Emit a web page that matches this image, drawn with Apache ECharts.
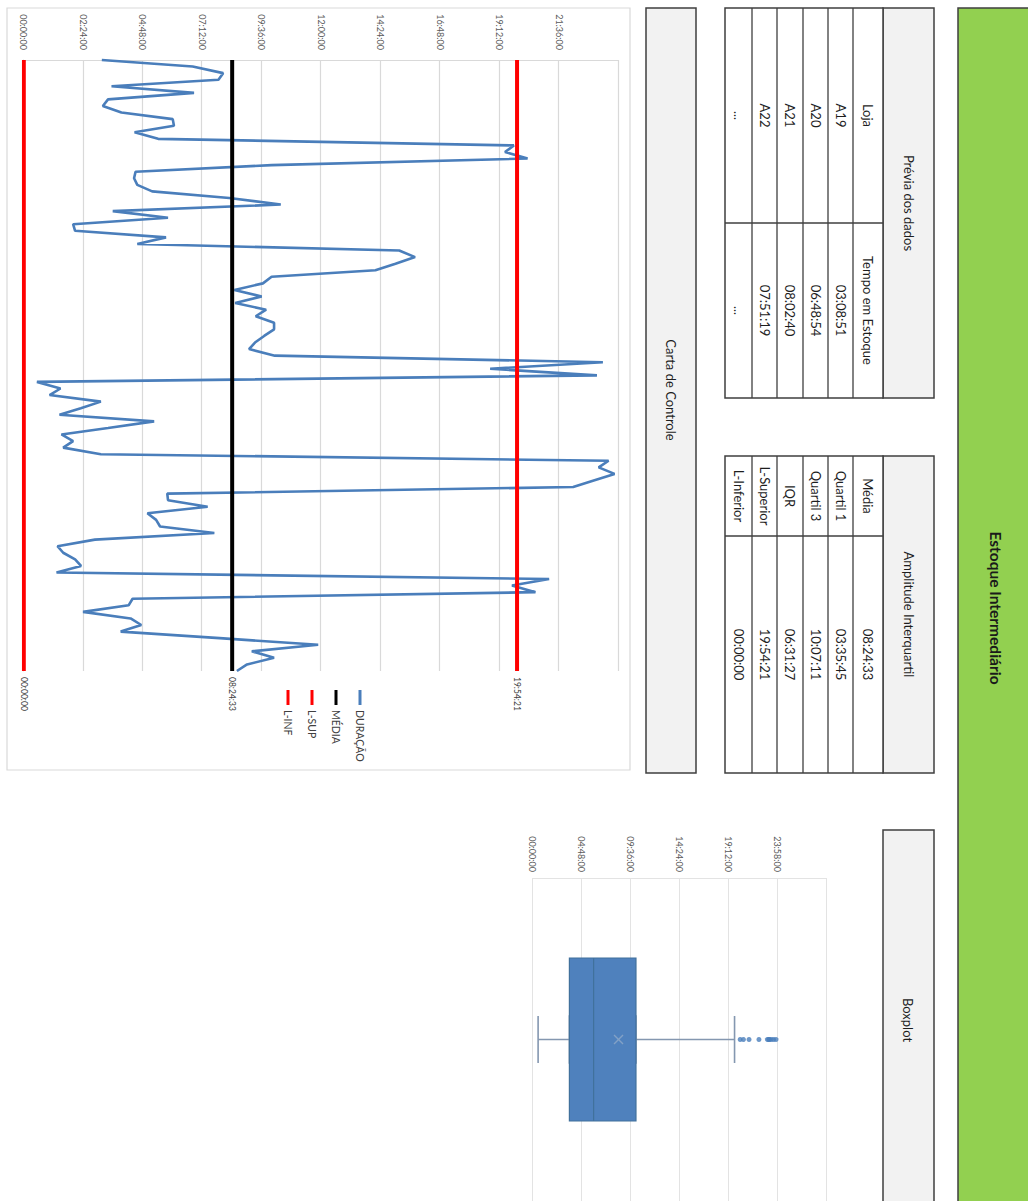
<!DOCTYPE html>
<html><head><meta charset="utf-8">
<script src="https://cdn.jsdelivr.net/npm/echarts@6/dist/echarts.min.js"></script>
<style>
html,body{margin:0;padding:0;background:#fff;overflow:hidden;width:1028px;height:1201px;}
#chart{position:absolute;left:0;top:0;width:1201px;height:1028px;transform-origin:0 0;transform:translate(1028px,0) rotate(90deg);}
</style></head><body><div id="chart"></div>
<script>
// ---- data (hours) ----
const duracao = [3.148,6.815,8.044,7.855,3.54,6.87,3.40,3.19,3.94,6.01,
 6.06,4.47,5.42,19.78,19.42,20.33,10.0,4.51,4.45,4.58,
 5.18,8.29,10.37,3.59,5.82,1.99,2.07,5.74,4.58,15.15,
 15.79,15.0,14.19,10.0,9.65,8.5,9.6,8.53,9.78,9.36,
 10.1,10.1,9.7,9.33,9.09,10.13,23.37,18.82,23.13,0.53,
 1.48,1.04,3.11,2.3,1.44,5.26,3.4,1.52,1.99,1.59,
 3.11,23.6,23.2,23.84,23.0,22.17,5.79,5.82,7.42,4.99,
 5.34,5.5,7.69,2.87,1.36,1.59,2.07,2.31,1.32,21.2,
 19.7,20.65,4.39,4.23,2.39,4.31,4.74,3.91,7.9,11.88,
 9.2,10.1,9.01,8.6];
const mediaH = 8 + 24/60 + 33/3600;     // 08:24:33
const lSupH = 19 + 54/60 + 21/3600;     // 19:54:21
const lInfH = 0;                        // 00:00:00
const categories = duracao.map((_, i) => 'P' + (i + 1));
const seriesNames = ['DURAÇÃO', 'MÉDIA', 'L-SUP', 'L-INF'];

// boxplot: [min, Q1, median, Q3, max-whisker]
const boxStats = [0.53, 3 + 35/60 + 45/3600, 5.97, 10 + 7/60 + 11/3600, 19.78];
const boxCategory = ['Estoque'];
const boxTickLabels = ['00:00:00', '04:48:00', '09:36:00', '14:24:00', '19:12:00', '23:58:00', ''];

// tables
const previewTitle = 'Prévia dos dados';
const previewHeader = ['Loja', 'Tempo em Estoque'];
const previewRows = [['A19', '03:08:51'], ['A20', '06:48:54'], ['A21', '08:02:40'], ['A22', '07:51:19'], ['...', '...']];
const iqrTitle = 'Amplitude Interquartil';
const iqrRows = [['Média', '08:24:33'], ['Quartil 1', '03:35:45'], ['Quartil 3', '10:07:11'], ['IQR', '06:31:27'], ['L-Superior', '19:54:21'], ['L-Inferior', '00:00:00']];
const mainTitle = 'Estoque Intermediário';
const chartTitle = 'Carta de Controle';
const boxTitle = 'Boxplot';

// ---- helpers ----
function hms(h) {
  let s = Math.round(h * 3600);
  const hh = Math.floor(s / 3600); s -= hh * 3600;
  const mm = Math.floor(s / 60); const ss = s - mm * 60;
  const p = n => String(n).padStart(2, '0');
  return p(hh) + ':' + p(mm) + ':' + p(ss);
}
const FONT = 'Lato, "Liberation Sans", Arial, sans-serif';
const BORDER = '#3f3f3f';
const graphics = [];
function rect(x, y, w, h, fill, stroke, lw) {
  graphics.push({ type: 'rect', z: 0, shape: { x, y, width: w, height: h },
    style: { fill: fill, stroke: stroke || 'none', lineWidth: lw || 0 } });
}
function line(x1, y1, x2, y2, stroke, lw) {
  graphics.push({ type: 'line', z: 1, shape: { x1, y1, x2, y2 }, style: { stroke, lineWidth: lw } });
}
function text(x, y, str, size, bold, color) {
  graphics.push({ type: 'text', z: 2, style: { x, y, text: str,
    font: (bold ? 'bold ' : '') + size + 'px ' + FONT, fill: color || '#1e1e1e',
    textAlign: 'center', textVerticalAlign: 'middle', align: 'center', verticalAlign: 'middle' } });
}

// banner
rect(8, -6, 1210, 76, '#92d050', BORDER, 1.5);
text(608, 32, mainTitle, 15.5, true, '#1a1a1a');
// header boxes
rect(8, 332, 765, 50, '#f2f2f2', BORDER, 1.5);
text(390, 357, chartTitle, 13);
rect(830, 94, 380, 51, '#f2f2f2', BORDER, 1.5);
text(1020, 120, boxTitle, 13);
// control chart frame
rect(8, 398, 762, 623, 'none', '#d9d9d9', 1.2);

const rowY = [145, 175, 200, 225, 251, 276, 303];
function table(x0, xm, x1, title, rows) {
  rect(x0, 94, x1 - x0, 51, '#f2f2f2', BORDER, 1.5);
  text((x0 + x1) / 2, 119, title, 13);
  rect(x0, 145, x1 - x0, 158, '#ffffff', BORDER, 1.5);
  for (let i = 1; i < rowY.length - 1; i++) line(x0, rowY[i], x1, rowY[i], BORDER, 1.3);
  line(xm, 145, xm, 303, BORDER, 1.3);
  rows.forEach((r, i) => {
    const cy = (rowY[i] + rowY[i + 1]) / 2;
    text((x0 + xm) / 2, cy, r[0], 13);
    text((xm + x1) / 2, cy, r[1], 13);
  });
}
table(8, 223, 398, previewTitle, [previewHeader].concat(previewRows));
table(456, 536, 773, iqrTitle, iqrRows);

const outliers = duracao.filter(v => v > lSupH);

const endLbl = { show: true, formatter: p => hms(p.value), fontSize: 8.5, color: '#404040', distance: 6, fontFamily: FONT };
function flat(v) { return categories.map(() => v); }

const chart = echarts.init(document.getElementById('chart'), null, { renderer: 'svg', width: 1201, height: 1028 });
chart.setOption({
  animation: false,
  textStyle: { fontFamily: FONT },
  graphic: graphics,
  legend: {
    data: seriesNames, orient: 'vertical', left: 685, top: 656,
    icon: 'rect', itemGap: 10, itemWidth: 15, itemHeight: 3,
    textStyle: { fontSize: 10.5, color: '#404040', fontFamily: FONT, lineHeight: 14 }
  },
  grid: [
    { left: 60, top: 409.5, width: 611, height: 594.7 },
    { left: 878, top: 201.4, width: 328, height: 293.9 }
  ],
  xAxis: [
    { type: 'category', gridIndex: 0, data: categories, boundaryGap: false,
      axisLine: { show: true, lineStyle: { color: '#d9d9d9' } }, axisTick: { show: false }, axisLabel: { show: false } },
    { type: 'category', gridIndex: 1, data: boxCategory, show: false },
    { type: 'category', gridIndex: 1, data: boxCategory, show: false }
  ],
  yAxis: [
    { type: 'value', gridIndex: 0, min: 0, max: 24, interval: 2.4,
      axisLine: { show: true, lineStyle: { color: '#d9d9d9', width: 1.2 } }, axisTick: { show: false },
      splitLine: { lineStyle: { color: '#d9d9d9', width: 1.2 } },
      axisLabel: { formatter: v => hms(v), fontSize: 9, color: '#595959', margin: 10, showMaxLabel: false } },
    { type: 'value', gridIndex: 1, min: 0, max: 28.8, interval: 4.8,
      axisLine: { show: true, lineStyle: { color: '#e3e3e3' } }, axisTick: { show: false },
      splitLine: { lineStyle: { color: '#e3e3e3' } },
      axisLabel: { formatter: v => boxTickLabels[Math.round(v / 4.8)] || '', fontSize: 9, color: '#595959', margin: 6 } }
  ],
  series: [
    { name: seriesNames[0], type: 'line', data: duracao, symbol: 'none', color: '#4a7ebb',
      lineStyle: { width: 2.6, color: '#4a7ebb' }, z: 3 },
    { name: seriesNames[1], type: 'line', data: flat(mediaH), symbol: 'none', color: '#000000',
      lineStyle: { width: 4, color: '#000000' }, endLabel: endLbl, z: 4 },
    { name: seriesNames[2], type: 'line', data: flat(lSupH), symbol: 'none', color: '#ff0000',
      lineStyle: { width: 4, color: '#ff0000' }, endLabel: endLbl, z: 4 },
    { name: seriesNames[3], type: 'line', data: flat(lInfH), symbol: 'none', color: '#ff0000',
      lineStyle: { width: 4, color: '#ff0000' }, endLabel: endLbl, z: 4 },
    { name: 'whisker', type: 'boxplot', xAxisIndex: 2, yAxisIndex: 1, boxWidth: [47, 47],
      data: [boxStats], itemStyle: { color: 'transparent', borderColor: '#8497b0', borderWidth: 1.6 }, z: 2 },
    { name: 'box', type: 'boxplot', xAxisIndex: 1, yAxisIndex: 1, boxWidth: [163, 163],
      data: [[boxStats[1], boxStats[1], boxStats[2], boxStats[3], boxStats[3]]],
      itemStyle: { color: '#4f81bd', borderColor: '#41719c', borderWidth: 1.2 }, z: 3 },
    { name: 'média', type: 'scatter', xAxisIndex: 1, yAxisIndex: 1, data: [[0, mediaH]],
      symbol: 'path://M1,0L5,4L9,0L10,1L6,5L10,9L9,10L5,6L1,10L0,9L4,5L0,1Z', symbolSize: 10,
      itemStyle: { color: '#8ea9c8' }, z: 5 },
    { name: 'outliers', type: 'scatter', xAxisIndex: 1, yAxisIndex: 1, data: outliers.map(v => [0, v]),
      symbolSize: 5, itemStyle: { color: '#4a7ebb' }, z: 5 }
  ]
});
</script></body></html>
